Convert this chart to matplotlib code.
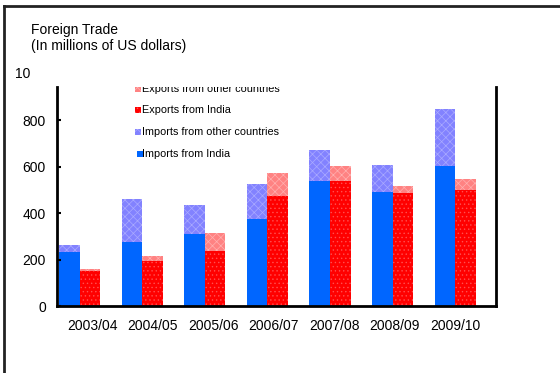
import numpy as np
import matplotlib.pyplot as plt
from matplotlib.patches import Rectangle
from matplotlib.lines import Line2D

plt.rcParams['font.family'] = ['Liberation Sans', 'DejaVu Sans']
plt.rcParams['hatch.linewidth'] = 0.5

years = ['2003/04', '2004/05', '2005/06', '2006/07', '2007/08', '2008/09', '2009/10']
imports_india = [234, 277, 311, 375, 538, 492, 603]
imports_other = [28, 183, 125, 150, 133, 114, 243]
exports_india = [150, 195, 237, 474, 538, 487, 500]
exports_other = [9, 20, 77, 98, 64, 29, 45]

legend_labels = ['Exports from other countries', 'Exports from India',
                 'Imports from other countries', 'Imports from India']

c_imp = '#0066ff'
c_imp_o = '#8282ff'
c_exp = '#ff0000'
c_exp_o = '#ff8282'

fig = plt.figure(figsize=(5.6, 3.73), dpi=100)
ax = fig.add_axes([57 / 560, 1 - 306 / 373, 439 / 560, 219 / 373])

x = np.arange(len(years))
w = 0.33
ax.bar(x - w / 2, imports_india, w, color=c_imp, linewidth=0)
ax.bar(x - w / 2, imports_other, w, bottom=imports_india, facecolor=c_imp_o,
       edgecolor='#aaaaff', hatch='xxxx', linewidth=0)
ax.bar(x + w / 2, exports_india, w, facecolor=c_exp, edgecolor='#ff5050',
       hatch='....', linewidth=0)
ax.bar(x + w / 2, exports_other, w, bottom=exports_india, facecolor=c_exp_o,
       edgecolor='#ffb0b0', hatch='xxxx', linewidth=0)

ax.set_xlim(-0.36, 6.65)
ax.set_ylim(0, 942)
ax.set_yticks([0, 200, 400, 600, 800])
ax.tick_params(axis='y', direction='in', length=3, width=1.5, pad=8, labelsize=10)
# category labels sit a little off the bar pairs
ax.set_xticks(np.linspace(0.2, 6.0, len(years)))
ax.set_xticklabels(years)
ax.tick_params(axis='x', length=0, pad=9, labelsize=10)
ax.spines['top'].set_visible(False)
for s in ['left', 'right', 'bottom']:
    ax.spines[s].set_linewidth(2)

# top of the value scale, only partly shown above the plot area
fig.text(15 / 560, 1 - 74 / 373, '10', ha='left', va='center', fontsize=10)

# legend drawn inside the plot area
leg_y = [0.991, 0.895, 0.793, 0.693]
leg_colors = [(c_exp_o, '#ffb0b0', 'xxxx'), (c_exp, '#ff5050', '....'),
              (c_imp_o, '#aaaaff', 'xxxx'), (c_imp, c_imp, None)]
for yy, lab, (fc, ec, h) in zip(leg_y, legend_labels, leg_colors):
    dx = 0.005 if h is None else 0.0
    ax.add_patch(Rectangle((0.178 + dx, yy - 0.013), 0.0135, 0.027,
                           transform=ax.transAxes, facecolor=fc, edgecolor=ec,
                           hatch=h, linewidth=0, clip_on=True))
    ax.text(0.194, yy, lab, transform=ax.transAxes, fontsize=7.8,
            va='center', ha='left', clip_on=True)

fig.text(31 / 560, 1 - 23 / 373, 'Foreign Trade\n(In millions of US dollars)',
         ha='left', va='top', fontsize=10, linespacing=1.15)

# outer frame
fig.add_artist(Line2D([4 / 560, 1], [1 - 6 / 373, 1 - 6 / 373], color='#222222',
                      linewidth=2, transform=fig.transFigure))
fig.add_artist(Line2D([4 / 560, 4 / 560], [0, 1 - 6 / 373], color='#222222',
                      linewidth=2, transform=fig.transFigure))

fig.savefig('out.png', dpi=100)
